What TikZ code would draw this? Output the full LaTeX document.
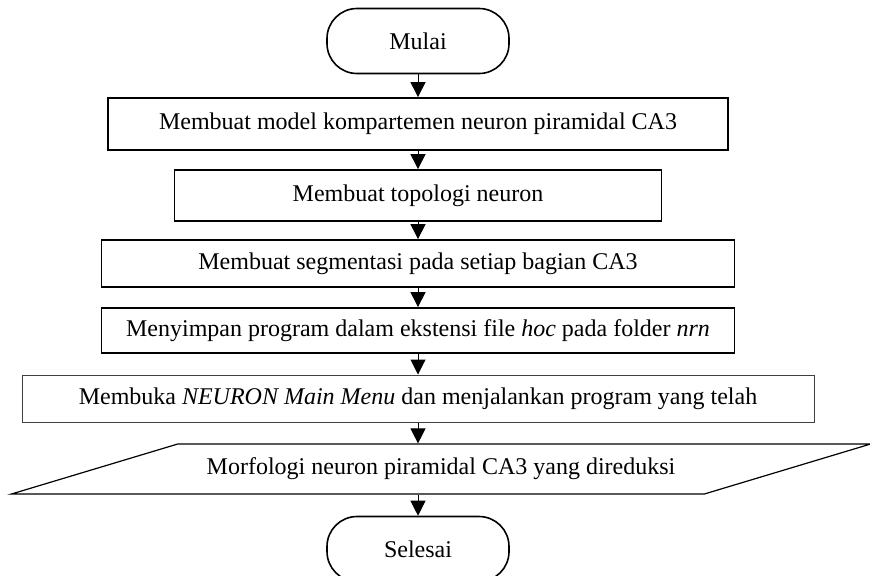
\documentclass[tikz,border=0pt]{standalone}
\usepackage{fontspec}
\setmainfont{Liberation Serif}
\usetikzlibrary{positioning, shapes.geometric, arrows.meta}

\begin{document}
\begin{tikzpicture}[x=0.5pt, y=-0.5pt, every node/.style={font=\fontsize{12}{14}\selectfont},
    terminal/.style={draw, line width=0.8pt, rounded corners=15pt, minimum width=91pt, minimum height=32.5pt},
    process/.style={draw, line width=0.9pt, inner sep=2pt},
    io/.style={draw, line width=0.6pt, shape=trapezium, trapezium left angle=11.3, trapezium right angle=168.7,
      trapezium stretches=true, minimum width=431pt, minimum height=25pt, inner sep=2pt},
    flow/.style={-{Triangle[length=7.5pt, width=7.5pt]}, line width=0.5pt}]
    \useasboundingbox (0,0) rectangle (870,575);
    \clip (0,0) rectangle (870,575);
    \node[terminal] (mulai) at (418,41) {Mulai};
    \node[process, minimum width=310pt, minimum height=26pt] (model) at (418,124) {Membuat model kompartemen neuron piramidal CA3};
    \node[process, minimum width=243.5pt, minimum height=25.5pt] (topologi) at (418,195.5) {Membuat topologi neuron};
    \node[process, minimum width=316.5pt, minimum height=23.5pt] (segmen) at (418,263.5) {Membuat segmentasi pada setiap bagian CA3};
    \node[process, minimum width=316.5pt, minimum height=22.5pt] (simpan) at (418,330.5) {Menyimpan program dalam ekstensi file \textit{hoc} pada folder \textit{nrn}};
    \node[process, draw=black!75, line width=0.5pt, minimum width=396pt, minimum height=23.5pt] (buka) at (418,398.5) {Membuka \textit{NEURON Main Menu} dan menjalankan program yang telah};
    \node[io] (morfologi) at (441,469) {Morfologi neuron piramidal CA3 yang direduksi};
    \node[terminal] (selesai) at (418,549) {Selesai};
    \draw[flow] (mulai) -- (model);
    \draw[flow] (model) -- (topologi);
    \draw[flow] (topologi) -- (segmen);
    \draw[flow] (segmen) -- (simpan);
    \draw[flow] (simpan) -- (buka);
    \draw[flow] (buka) -- (buka |- morfologi.north);
    \draw[flow] (selesai |- morfologi.south) -- (selesai);
  \end{tikzpicture}
\end{document}
